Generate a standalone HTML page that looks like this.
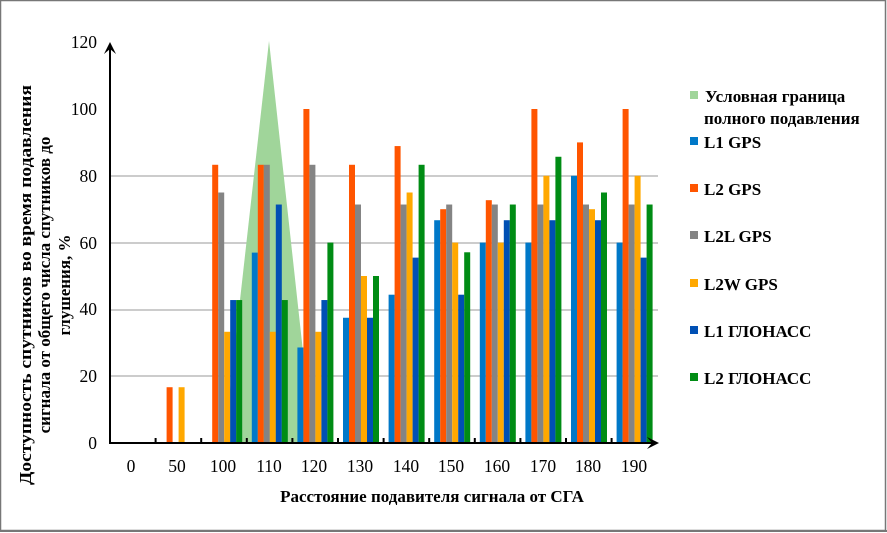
<!DOCTYPE html>
<html><head><meta charset="utf-8"><style>
html,body{margin:0;padding:0;background:#fff}
svg{display:block}
text{font-family:"Liberation Serif",serif}
</style></head><body>
<svg width="887" height="533" xmlns="http://www.w3.org/2000/svg">
<rect x="0" y="0" width="887" height="533" fill="#fff"/>
<rect x="0.5" y="0.5" width="885" height="530" fill="none" stroke="#777" stroke-width="1.5"/>
<line x1="0" y1="531" x2="887" y2="531" stroke="#777" stroke-width="2"/>
<g stroke="#bbb" stroke-width="1.5">
<line x1="110" y1="176" x2="658" y2="176"/>
<line x1="110" y1="243" x2="658" y2="243"/>
<line x1="110" y1="310" x2="658" y2="310"/>
<line x1="110" y1="376" x2="658" y2="376"/>
</g>
<polygon points="224,443 269,41 313,443" fill="#a0d59a"/>
<g transform="translate(0,443) scale(1,-3.34)">
<g fill="#0078c8">
<rect x="251.8" y="0" width="6" height="57"/><rect x="297.4" y="0" width="6" height="28.6"/>
<rect x="343" y="0" width="6" height="37.5"/><rect x="388.6" y="0" width="6" height="44.4"/>
<rect x="434.2" y="0" width="6" height="66.7"/><rect x="479.8" y="0" width="6" height="60"/>
<rect x="525.4" y="0" width="6" height="60"/><rect x="571" y="0" width="6" height="80"/>
<rect x="616.6" y="0" width="6" height="60"/>
</g>
<g fill="#ff5500">
<rect x="166.6" y="0" width="6" height="16.7"/><rect x="212.2" y="0" width="6" height="83.3"/>
<rect x="257.8" y="0" width="6" height="83.3"/><rect x="303.4" y="0" width="6" height="100"/>
<rect x="349" y="0" width="6" height="83.3"/><rect x="394.6" y="0" width="6" height="88.9"/>
<rect x="440.2" y="0" width="6" height="70"/><rect x="485.8" y="0" width="6" height="72.7"/>
<rect x="531.4" y="0" width="6" height="100"/><rect x="577" y="0" width="6" height="90"/>
<rect x="622.6" y="0" width="6" height="100"/>
</g>
<g fill="#848484">
<rect x="218.2" y="0" width="6" height="75"/><rect x="263.8" y="0" width="6" height="83.3"/>
<rect x="309.4" y="0" width="6" height="83.3"/><rect x="355" y="0" width="6" height="71.4"/>
<rect x="400.6" y="0" width="6" height="71.4"/><rect x="446.2" y="0" width="6" height="71.4"/>
<rect x="491.8" y="0" width="6" height="71.4"/><rect x="537.4" y="0" width="6" height="71.4"/>
<rect x="583" y="0" width="6" height="71.4"/><rect x="628.6" y="0" width="6" height="71.4"/>
</g>
<g fill="#ffa800">
<rect x="178.6" y="0" width="6" height="16.7"/><rect x="224.2" y="0" width="6" height="33.3"/>
<rect x="269.8" y="0" width="6" height="33.3"/><rect x="315.4" y="0" width="6" height="33.3"/>
<rect x="361" y="0" width="6" height="50"/><rect x="406.6" y="0" width="6" height="75"/>
<rect x="452.2" y="0" width="6" height="60"/><rect x="497.8" y="0" width="6" height="60"/>
<rect x="543.4" y="0" width="6" height="80"/><rect x="589" y="0" width="6" height="70"/>
<rect x="634.6" y="0" width="6" height="80"/>
</g>
<g fill="#0050b4">
<rect x="230.2" y="0" width="6" height="42.8"/><rect x="275.8" y="0" width="6" height="71.4"/>
<rect x="321.4" y="0" width="6" height="42.8"/><rect x="367" y="0" width="6" height="37.5"/>
<rect x="412.6" y="0" width="6" height="55.5"/><rect x="458.2" y="0" width="6" height="44.4"/>
<rect x="503.8" y="0" width="6" height="66.7"/><rect x="549.4" y="0" width="6" height="66.7"/>
<rect x="595" y="0" width="6" height="66.7"/><rect x="640.6" y="0" width="6" height="55.5"/>
</g>
<g fill="#008c14">
<rect x="236.2" y="0" width="6" height="42.8"/><rect x="281.8" y="0" width="6" height="42.8"/>
<rect x="327.4" y="0" width="6" height="60"/><rect x="373" y="0" width="6" height="50"/>
<rect x="418.6" y="0" width="6" height="83.3"/><rect x="464.2" y="0" width="6" height="57.1"/>
<rect x="509.8" y="0" width="6" height="71.4"/><rect x="555.4" y="0" width="6" height="85.7"/>
<rect x="601" y="0" width="6" height="75"/><rect x="646.6" y="0" width="6" height="71.4"/>
</g>
</g>
<line x1="110" y1="443" x2="110" y2="46" stroke="#000" stroke-width="2"/>
<path d="M104,54 L110,42 L116,54 L110,49 Z" fill="#000"/>
<line x1="109" y1="443" x2="655" y2="443" stroke="#000" stroke-width="2"/>
<path d="M647,437 L659,443 L647,449 L652,443 Z" fill="#000"/>
<g stroke="#000" stroke-width="2">
<line x1="155.6" y1="443" x2="155.6" y2="438"/><line x1="201.2" y1="443" x2="201.2" y2="438"/>
<line x1="246.8" y1="443" x2="246.8" y2="438"/><line x1="292.4" y1="443" x2="292.4" y2="438"/>
<line x1="338" y1="443" x2="338" y2="438"/><line x1="383.6" y1="443" x2="383.6" y2="438"/>
<line x1="429.2" y1="443" x2="429.2" y2="438"/><line x1="474.8" y1="443" x2="474.8" y2="438"/>
<line x1="520.4" y1="443" x2="520.4" y2="438"/><line x1="566" y1="443" x2="566" y2="438"/>
<line x1="611.6" y1="443" x2="611.6" y2="438"/>
</g>
<g font-size="17.5" text-anchor="end" fill="#000">
<text x="97" y="48">120</text><text x="97" y="115">100</text><text x="97" y="182">80</text>
<text x="97" y="249">60</text><text x="97" y="315">40</text><text x="97" y="382">20</text><text x="97" y="449">0</text>
</g>
<g font-size="17.5" text-anchor="middle" fill="#000">
<text x="131" y="472">0</text><text x="177" y="472">50</text><text x="223" y="472">100</text>
<text x="269" y="472">110</text><text x="314" y="472">120</text><text x="360" y="472">130</text>
<text x="406" y="472">140</text><text x="451" y="472">150</text><text x="497" y="472">160</text>
<text x="543" y="472">170</text><text x="588" y="472">180</text><text x="634" y="472">190</text>
</g>
<text x="432" y="502" font-size="17" font-weight="bold" text-anchor="middle">Расстояние подавителя сигнала от СГА</text>
<g font-size="17" font-weight="bold" text-anchor="middle">
<text transform="translate(31,285) rotate(-90)" textLength="400" lengthAdjust="spacingAndGlyphs">Доступность спутников во время подавления</text>
<text transform="translate(50,285) rotate(-90)">сигнала от общего числа спутников до</text>
<text transform="translate(70,285) rotate(-90)">глушения, %</text>
</g>
<g font-size="17" font-weight="bold">
<rect x="690" y="91" width="8" height="8" fill="#a0d59a"/>
<text x="705" y="102">Условная граница</text>
<text x="704" y="124">полного подавления</text>
<rect x="690" y="137" width="8" height="8" fill="#0078c8"/><text x="704" y="148">L1 GPS</text>
<rect x="690" y="184" width="8" height="8" fill="#ff5500"/><text x="704" y="195">L2 GPS</text>
<rect x="690" y="231" width="8" height="8" fill="#848484"/><text x="704" y="242">L2L GPS</text>
<rect x="690" y="279" width="8" height="8" fill="#ffa800"/><text x="704" y="290">L2W GPS</text>
<rect x="690" y="326" width="8" height="8" fill="#0050b4"/><text x="704" y="337">L1 ГЛОНАСС</text>
<rect x="690" y="373" width="8" height="8" fill="#008c14"/><text x="704" y="384">L2 ГЛОНАСС</text>
</g>
</svg>
</body></html>
